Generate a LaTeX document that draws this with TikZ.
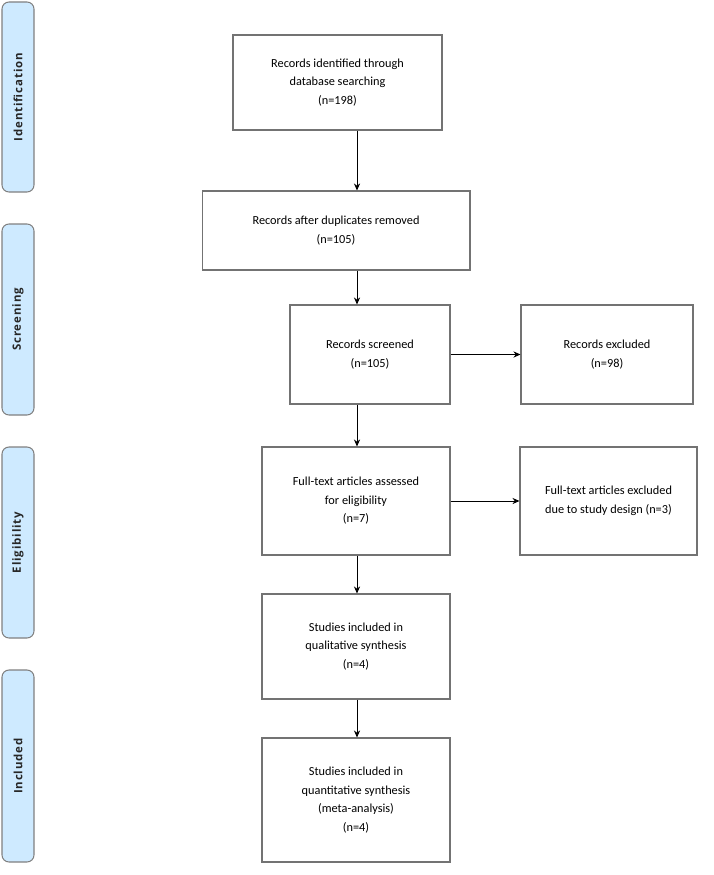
\documentclass[tikz,border=0pt]{standalone}
\usepackage{fontspec}
\setmainfont{Carlito}
\newfontfamily\sidefont[LetterSpace=8]{Open Sans}
\usetikzlibrary{arrows.meta}
\definecolor{phasefill}{RGB}{206,234,255}
\tikzset{
  box/.style={draw=black!55,line width=.6pt,align=center,inner sep=2pt,
    font=\fontsize{7}{10.5}\selectfont},
  phase/.style={draw=black!50,fill=phasefill,rounded corners=4pt,line width=.6pt},
  phaselbl/.style={rotate=90,font=\sidefont\bfseries\fontsize{6.5}{8}\selectfont,text=black!85},
  flow/.style={-{Stealth[length=4pt,width=3.5pt]},line width=.5pt}
}
\begin{document}
\begin{tikzpicture}[x=0.02cm,y=-0.02cm]
\useasboundingbox (0,0) rectangle (713,875);
% phases
\foreach \top/\bot/\name/\txt in {2/192/pid/Identification,224/415/pscr/Screening,
    447/638/pelig/Eligibility,670/862/pinc/Included}{
  \draw[phase] (2,\top) rectangle (34,\bot);
  \node[phaselbl] (\name) at (18,{(\top+\bot)/2}) {\txt};
}
% boxes
\node[box,minimum width=4.18cm,minimum height=1.9cm] (ident) at (337.5,82.5)
  {Records identified through\\database searching\\(n=198)};
\node[box,minimum width=5.36cm,minimum height=1.58cm] (dupl) at (336,230.5)
  {Records after duplicates removed\\(n=105)};
\node[box,minimum width=3.2cm,minimum height=1.98cm] (scr) at (370,354.5)
  {Records screened\\(n=105)};
\node[box,minimum width=3.44cm,minimum height=1.98cm] (scrx) at (607,354.5)
  {Records excluded\\(n=98)};
\node[box,minimum width=3.76cm,minimum height=2.16cm] (full) at (356,501)
  {Full-text articles assessed\\for eligibility\\(n=7)};
\node[box,minimum width=3.54cm,minimum height=2.16cm] (fullx) at (608.5,501)
  {Full-text articles excluded\\due to study design (n=3)};
\node[box,minimum width=3.76cm,minimum height=2.1cm] (qual) at (356,646.5)
  {Studies included in\\qualitative synthesis\\(n=4)};
\node[box,minimum width=3.76cm,minimum height=2.48cm] (quant) at (356,800)
  {Studies included in\\quantitative synthesis\\(meta-analysis)\\(n=4)};
% connectors
\coordinate (ax) at (357,0);
\draw[flow] (ident.south -| ax) -- (dupl.north -| ax);
\draw[flow] (dupl.south -| ax) -- (scr.north -| ax);
\draw[flow] (scr.south -| ax) -- (full.north -| ax);
\draw[flow] (full.south -| ax) -- (qual.north -| ax);
\draw[flow] (qual.south -| ax) -- (quant.north -| ax);
\draw[flow] (scr) -- (scrx);
\draw[flow] (full) -- (fullx);
\end{tikzpicture}
\end{document}
